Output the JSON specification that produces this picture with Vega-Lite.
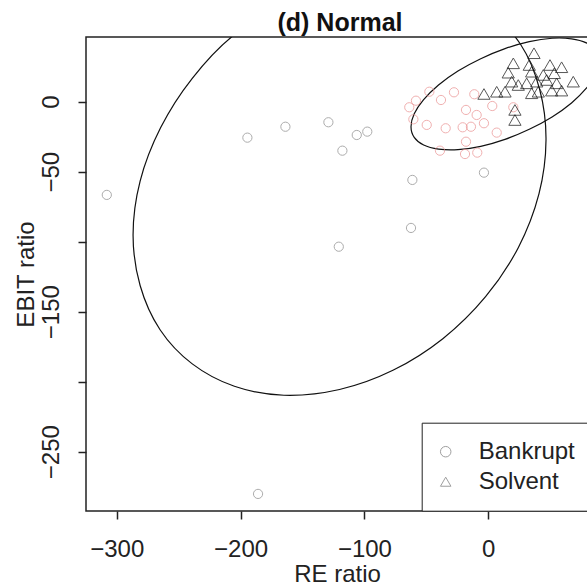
{
  "$schema": "https://vega.github.io/schema/vega-lite/v6.json",
  "width": 502,
  "height": 474,
  "autosize": {"type": "none"},
  "padding": {"left": 86, "top": 37, "right": 0, "bottom": 75},
  "background": "white",
  "config": {
    "view": {"stroke": "#222", "strokeWidth": 1.5},
    "axis": {"grid": false, "domain": false, "tickColor": "#222", "tickWidth": 1.5, "tickSize": 8, "labelColor": "#222", "titleColor": "#222", "titleFontWeight": "normal", "labelOverlap": false, "labelFlush": false, "labelFont": "Liberation Sans", "titleFont": "Liberation Sans"}
  },
  "title": {"text": "(d) Normal", "font": "Liberation Sans", "fontSize": 25, "fontWeight": "bold", "color": "#111", "anchor": "start", "frame": "group", "align": "center", "dx": 254, "offset": 1},
  "datasets": {
    "pts": [
      {"re": -308.0, "ebit": -66.6, "type": "Bankrupt", "grp": "gray"},
      {"re": -194.5, "ebit": -25.7, "type": "Bankrupt", "grp": "gray"},
      {"re": -163.8, "ebit": -17.9, "type": "Bankrupt", "grp": "gray"},
      {"re": -129.1, "ebit": -14.7, "type": "Bankrupt", "grp": "gray"},
      {"re": -106.2, "ebit": -23.8, "type": "Bankrupt", "grp": "gray"},
      {"re": -97.7, "ebit": -21.4, "type": "Bankrupt", "grp": "gray"},
      {"re": -117.8, "ebit": -35.0, "type": "Bankrupt", "grp": "gray"},
      {"re": -120.7, "ebit": -103.6, "type": "Bankrupt", "grp": "gray"},
      {"re": -61.3, "ebit": -55.9, "type": "Bankrupt", "grp": "gray"},
      {"re": -62.4, "ebit": -90.2, "type": "Bankrupt", "grp": "gray"},
      {"re": -3.5, "ebit": -50.7, "type": "Bankrupt", "grp": "gray"},
      {"re": -185.9, "ebit": -280.2, "type": "Bankrupt", "grp": "gray"},
      {"re": -47.6, "ebit": 7.1, "type": "Bankrupt", "grp": "pink"},
      {"re": -58.4, "ebit": 0.7, "type": "Bankrupt", "grp": "pink"},
      {"re": -63.8, "ebit": -4.0, "type": "Bankrupt", "grp": "pink"},
      {"re": -27.7, "ebit": 6.7, "type": "Bankrupt", "grp": "pink"},
      {"re": -38.2, "ebit": 1.2, "type": "Bankrupt", "grp": "pink"},
      {"re": -11.3, "ebit": 5.3, "type": "Bankrupt", "grp": "pink"},
      {"re": -60.5, "ebit": -12.6, "type": "Bankrupt", "grp": "pink"},
      {"re": -49.7, "ebit": -16.6, "type": "Bankrupt", "grp": "pink"},
      {"re": -34.4, "ebit": -19.0, "type": "Bankrupt", "grp": "pink"},
      {"re": -18.0, "ebit": -5.9, "type": "Bankrupt", "grp": "pink"},
      {"re": -9.4, "ebit": -9.5, "type": "Bankrupt", "grp": "pink"},
      {"re": 3.2, "ebit": -3.1, "type": "Bankrupt", "grp": "pink"},
      {"re": -20.7, "ebit": -18.3, "type": "Bankrupt", "grp": "pink"},
      {"re": -14.0, "ebit": -17.9, "type": "Bankrupt", "grp": "pink"},
      {"re": -3.5, "ebit": -15.4, "type": "Bankrupt", "grp": "pink"},
      {"re": 6.8, "ebit": -22.1, "type": "Bankrupt", "grp": "pink"},
      {"re": 20.2, "ebit": -4.0, "type": "Bankrupt", "grp": "pink"},
      {"re": -18.0, "ebit": -28.6, "type": "Bankrupt", "grp": "pink"},
      {"re": -39.0, "ebit": -35.0, "type": "Bankrupt", "grp": "pink"},
      {"re": -18.8, "ebit": -37.4, "type": "Bankrupt", "grp": "pink"},
      {"re": -8.9, "ebit": -36.4, "type": "Bankrupt", "grp": "pink"},
      {"re": 36.9, "ebit": 34.6, "type": "Solvent", "grp": "black"},
      {"re": 20.2, "ebit": 27.4, "type": "Solvent", "grp": "black"},
      {"re": 33.1, "ebit": 26.2, "type": "Solvent", "grp": "black"},
      {"re": 49.8, "ebit": 26.2, "type": "Solvent", "grp": "black"},
      {"re": 59.2, "ebit": 24.6, "type": "Solvent", "grp": "black"},
      {"re": 16.1, "ebit": 20.7, "type": "Solvent", "grp": "black"},
      {"re": 35.0, "ebit": 21.4, "type": "Solvent", "grp": "black"},
      {"re": 44.4, "ebit": 19.1, "type": "Solvent", "grp": "black"},
      {"re": 53.3, "ebit": 20.3, "type": "Solvent", "grp": "black"},
      {"re": 68.6, "ebit": 14.3, "type": "Solvent", "grp": "black"},
      {"re": 18.9, "ebit": 14.3, "type": "Solvent", "grp": "black"},
      {"re": 24.2, "ebit": 11.9, "type": "Solvent", "grp": "black"},
      {"re": 31.0, "ebit": 13.1, "type": "Solvent", "grp": "black"},
      {"re": 39.1, "ebit": 14.3, "type": "Solvent", "grp": "black"},
      {"re": 47.1, "ebit": 15.5, "type": "Solvent", "grp": "black"},
      {"re": 55.2, "ebit": 13.1, "type": "Solvent", "grp": "black"},
      {"re": 59.2, "ebit": 7.9, "type": "Solvent", "grp": "black"},
      {"re": 51.2, "ebit": 7.9, "type": "Solvent", "grp": "black"},
      {"re": 40.4, "ebit": 7.1, "type": "Solvent", "grp": "black"},
      {"re": 35.0, "ebit": 6.0, "type": "Solvent", "grp": "black"},
      {"re": 13.5, "ebit": 7.1, "type": "Solvent", "grp": "black"},
      {"re": 6.8, "ebit": 7.1, "type": "Solvent", "grp": "black"},
      {"re": -3.5, "ebit": 5.5, "type": "Solvent", "grp": "black"},
      {"re": 21.5, "ebit": -5.9, "type": "Solvent", "grp": "black"},
      {"re": 21.5, "ebit": -13.1, "type": "Solvent", "grp": "black"}
    ],
    "ell": [
      {"ell": "big", "ord": 0, "re": 46.6, "ebit": -27.4},
      {"ell": "big", "ord": 1, "re": 40.9, "ebit": -65.9},
      {"ell": "big", "ord": 2, "re": 24.3, "ebit": -104.1},
      {"ell": "big", "ord": 3, "re": -2.2, "ebit": -139.3},
      {"ell": "big", "ord": 4, "re": -36.7, "ebit": -169.3},
      {"ell": "big", "ord": 5, "re": -77.0, "ebit": -191.9},
      {"ell": "big", "ord": 6, "re": -120.1, "ebit": -205.6},
      {"ell": "big", "ord": 7, "re": -165.0, "ebit": -209.7},
      {"ell": "big", "ord": 8, "re": -205.0, "ebit": -203.3},
      {"ell": "big", "ord": 9, "re": -239.0, "ebit": -187.3},
      {"ell": "big", "ord": 10, "re": -265.0, "ebit": -162.9},
      {"ell": "big", "ord": 11, "re": -281.1, "ebit": -131.3},
      {"ell": "big", "ord": 12, "re": -286.8, "ebit": -95.2},
      {"ell": "big", "ord": 13, "re": -281.1, "ebit": -56.7},
      {"ell": "big", "ord": 14, "re": -264.5, "ebit": -18.5},
      {"ell": "big", "ord": 15, "re": -239.0, "ebit": 16.7},
      {"ell": "big", "ord": 16, "re": -205.5, "ebit": 47.5},
      {"ell": "big", "ord": 17, "re": -163.2, "ebit": 69.3},
      {"ell": "big", "ord": 18, "re": -120.1, "ebit": 83.0},
      {"ell": "big", "ord": 19, "re": -77.0, "ebit": 86.9},
      {"ell": "big", "ord": 20, "re": -36.7, "ebit": 80.7},
      {"ell": "big", "ord": 21, "re": -1.0, "ebit": 65.5},
      {"ell": "big", "ord": 22, "re": 26.0, "ebit": 41.0},
      {"ell": "big", "ord": 23, "re": 41.5, "ebit": 8.7},
      {"ell": "small", "ord": 0, "re": 89.4, "ebit": 28.9},
      {"ell": "small", "ord": 1, "re": 86.8, "ebit": 19.7},
      {"ell": "small", "ord": 2, "re": 79.2, "ebit": 9.6},
      {"ell": "small", "ord": 3, "re": 67.2, "ebit": -0.9},
      {"ell": "small", "ord": 4, "re": 51.5, "ebit": -10.9},
      {"ell": "small", "ord": 5, "re": 33.1, "ebit": -19.7},
      {"ell": "small", "ord": 6, "re": 13.5, "ebit": -26.9},
      {"ell": "small", "ord": 7, "re": -6.1, "ebit": -31.9},
      {"ell": "small", "ord": 8, "re": -24.5, "ebit": -34.3},
      {"ell": "small", "ord": 9, "re": -40.2, "ebit": -33.9},
      {"ell": "small", "ord": 10, "re": -52.2, "ebit": -31.0},
      {"ell": "small", "ord": 11, "re": -59.8, "ebit": -25.5},
      {"ell": "small", "ord": 12, "re": -62.4, "ebit": -17.9},
      {"ell": "small", "ord": 13, "re": -59.8, "ebit": -8.7},
      {"ell": "small", "ord": 14, "re": -52.2, "ebit": 1.4},
      {"ell": "small", "ord": 15, "re": -40.2, "ebit": 11.9},
      {"ell": "small", "ord": 16, "re": -24.5, "ebit": 21.9},
      {"ell": "small", "ord": 17, "re": -6.1, "ebit": 30.7},
      {"ell": "small", "ord": 18, "re": 13.5, "ebit": 37.9},
      {"ell": "small", "ord": 19, "re": 33.1, "ebit": 42.9},
      {"ell": "small", "ord": 20, "re": 51.5, "ebit": 45.3},
      {"ell": "small", "ord": 21, "re": 67.2, "ebit": 44.9},
      {"ell": "small", "ord": 22, "re": 79.2, "ebit": 42.0},
      {"ell": "small", "ord": 23, "re": 86.8, "ebit": 36.5}
    ]
  },
  "encoding": {
    "x": {
      "field": "re", "type": "quantitative",
      "scale": {"domain": [-324.8, 80.5], "nice": false, "zero": false},
      "axis": {"values": [-300, -200, -100, 0], "title": "RE ratio", "labelFontSize": 24, "labelPadding": 18, "titleFontSize": 24, "titlePadding": 1}
    },
    "y": {
      "field": "ebit", "type": "quantitative",
      "scale": {"domain": [-292.4, 46.2], "nice": false, "zero": false},
      "axis": {"values": [0, -50, -100, -150, -200, -250], "labelExpr": "datum.value == -100 || datum.value == -200 ? '' : datum.label", "labelAngle": 270, "labelAlign": "center", "labelBaseline": "bottom", "title": "EBIT ratio", "labelFontSize": 24, "labelPadding": 15, "titleFontSize": 24, "titlePadding": 1}
    }
  },
  "layer": [
    {
      "data": {"name": "ell"},
      "mark": {"type": "line", "clip": true, "interpolate": "cardinal-closed", "color": "#111", "strokeWidth": 1.2},
      "encoding": {
        "detail": {"field": "ell", "type": "nominal"},
        "order": {"field": "ord", "type": "quantitative"}
      }
    },
    {
      "data": {"name": "pts"},
      "transform": [{"filter": "datum.type == 'Bankrupt'"}],
      "mark": {"type": "point", "filled": false, "strokeWidth": 1, "clip": true, "size": 85},
      "encoding": {
        "shape": {
          "field": "type", "type": "nominal",
          "scale": {"domain": ["Bankrupt", "Solvent"], "range": ["circle", "triangle-up"]},
          "legend": {"orient": "none", "legendX": 335.7, "legendY": 385.7, "title": null, "strokeColor": "#222", "fillColor": "white", "padding": 17, "labelFontSize": 24, "labelColor": "#222", "symbolStrokeColor": "#777", "symbolFillColor": "transparent", "symbolStrokeWidth": 1, "symbolSize": 110, "symbolOffset": -5, "labelOffset": 21, "rowPadding": 6,
            "encode": {"symbols": {"update": {"stroke": {"signal": "datum.value === 'Solvent' ? '#444' : '#999'"}}}}}
        },
        "color": {
          "field": "grp", "type": "nominal",
          "scale": {"domain": ["gray", "pink", "black"], "range": ["#8a8a8a", "#eb9090", "#111111"]},
          "legend": null
        }
      }
    },
    {
      "data": {"name": "pts"},
      "transform": [{"filter": "datum.type == 'Solvent'"}],
      "mark": {"type": "point", "filled": false, "strokeWidth": 1, "clip": true, "size": 150},
      "encoding": {
        "shape": {"field": "type", "type": "nominal"},
        "color": {"field": "grp", "type": "nominal", "legend": null}
      }
    }
  ]
}
